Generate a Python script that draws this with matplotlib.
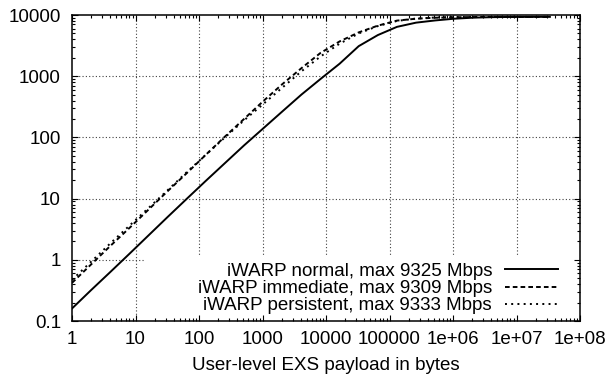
import matplotlib
matplotlib.use('Agg')
import matplotlib.pyplot as plt
from matplotlib.patches import Rectangle
from matplotlib.ticker import FixedLocator, FixedFormatter, LogLocator, NullFormatter

# ---- data ----
payload_bytes = [2 ** k for k in range(26)]
normal_mbps = [0.16, 0.32, 0.63, 1.25, 2.5, 5.0, 9.9, 19.5, 38, 74, 140, 265, 500,
               900, 1600, 3100, 4700, 6400, 7500, 8150, 8700, 9050, 9220, 9290, 9320, 9325]
immediate_mbps = [0.42, 0.84, 1.68, 3.3, 6.6, 13.2, 26, 52, 103, 200, 390, 740, 1350,
                  2400, 3700, 5200, 6700, 8100, 8700, 9020, 9180, 9250, 9290, 9300, 9305, 9309]
persistent_mbps = [0.47, 0.93, 1.85, 3.6, 7.0, 13.7, 27, 52, 100, 190, 350, 650, 1200,
                   2100, 3400, 5000, 6600, 8000, 8750, 9100, 9250, 9300, 9320, 9330, 9333, 9333]
series_labels = ['iWARP normal, max 9325 Mbps',
                 'iWARP immediate, max 9309 Mbps',
                 'iWARP persistent, max 9333 Mbps']
x_tick_values = [1, 10, 100, 1e3, 1e4, 1e5, 1e6, 1e7, 1e8]
x_tick_labels = ['1', '10', '100', '1000', '10000', '100000', '1e+06', '1e+07', '1e+08']
y_tick_values = [0.1, 1, 10, 100, 1000, 10000]
y_tick_labels = ['0.1', '1', '10', '100', '1000', '10000']
x_label = 'User-level EXS payload in bytes'

# ---- figure ----
plt.rcParams['font.family'] = ['Liberation Sans', 'DejaVu Sans']
FS = 13.5
fig = plt.figure(figsize=(6.09, 3.78), dpi=100)
ax = fig.add_axes([72 / 609, 1 - 321 / 378, 508 / 609, 306 / 378])
ax.set_xscale('log')
ax.set_yscale('log')
ax.set_xlim(x_tick_values[0], x_tick_values[-1])
ax.set_ylim(y_tick_values[0], y_tick_values[-1])

ax.xaxis.set_major_locator(FixedLocator(x_tick_values))
ax.xaxis.set_major_formatter(FixedFormatter(x_tick_labels))
ax.yaxis.set_major_locator(FixedLocator(y_tick_values))
ax.yaxis.set_major_formatter(FixedFormatter(y_tick_labels))
for axis in (ax.xaxis, ax.yaxis):
    axis.set_minor_locator(LogLocator(base=10, subs=range(2, 10), numticks=30))
    axis.set_minor_formatter(NullFormatter())

ax.set_axisbelow(False)
ax.tick_params(which='both', direction='in', top=True, right=True, width=0.8,
               labelsize=FS, colors='black')
ax.tick_params(which='major', length=4.5)
ax.tick_params(which='minor', length=2.5)
ax.tick_params(axis='y', pad=8.0)
ax.tick_params(axis='x', pad=7.0)
for sp in ax.spines.values():
    sp.set_linewidth(1.1)

# grid (dotted), drawn under a white key area
grid_kw = dict(color='0.25', lw=0.8, ls=(0, (1, 2)), zorder=0.5)
for v in x_tick_values[1:-1]:
    ax.axvline(v, **grid_kw)
for v in y_tick_values[1:-1]:
    ax.axhline(v, **grid_kw)
ax.add_patch(Rectangle((0.1437, 0.0), 0.8563, 0.209, transform=ax.transAxes,
                       facecolor='white', edgecolor='none', zorder=1))

lw = 1.4
ax.plot(payload_bytes, normal_mbps, color='black', lw=lw, ls='-',
        label=series_labels[0], zorder=2)
ax.plot(payload_bytes, immediate_mbps, color='black', lw=lw, dashes=(2.4, 1.6),
        label=series_labels[1], zorder=2)
ax.plot(payload_bytes, persistent_mbps, color='black', lw=lw, dashes=(1, 2.2),
        label=series_labels[2], zorder=2)

ax.legend(loc='lower right', bbox_to_anchor=(0.956, 0.022), frameon=False,
          markerfirst=False, fontsize=FS, handlelength=2.8, handletextpad=0.7,
          labelspacing=0.0, borderpad=0, borderaxespad=0)

ax.set_xlabel(x_label, fontsize=FS, labelpad=7)

fig.savefig('out.png', dpi=100)
